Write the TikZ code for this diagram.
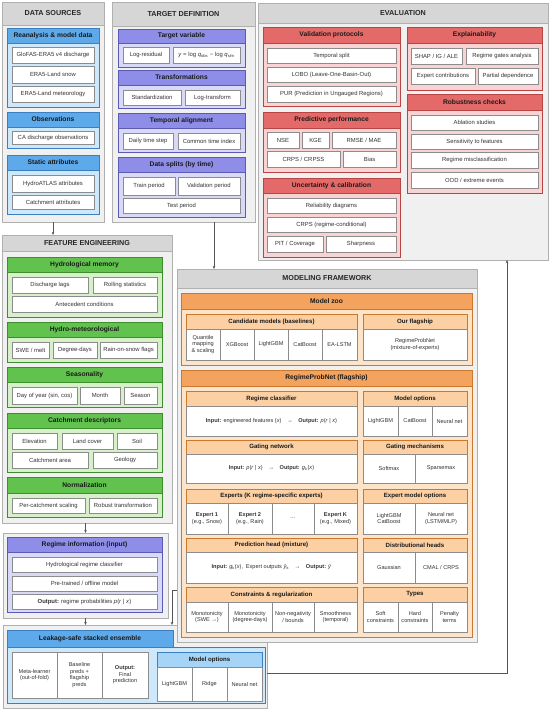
\documentclass[tikz,border=0pt]{standalone}
\usepackage{fontspec}
\setmainfont{Liberation Sans}
\usetikzlibrary{arrows.meta}
\definecolor{secf}{HTML}{F0F0F0}
\definecolor{secd}{HTML}{B0B0B0}
\definecolor{sect}{HTML}{D6D6D6}
\definecolor{itemd}{HTML}{8C8C8C}
\definecolor{txt}{HTML}{333333}
\definecolor{arrc}{HTML}{555555}
\definecolor{blueh}{HTML}{5DA9E9}
\definecolor{blueb}{HTML}{CDE8FB}
\definecolor{blued}{HTML}{3B7FC0}
\definecolor{bluesub}{HTML}{A6D4F7}
\definecolor{purh}{HTML}{8E8EE8}
\definecolor{purb}{HTML}{D8D8F7}
\definecolor{purd}{HTML}{5B5BB5}
\definecolor{redh}{HTML}{E46A6A}
\definecolor{redb}{HTML}{F9D3D3}
\definecolor{redd}{HTML}{B84444}
\definecolor{grnh}{HTML}{62C24E}
\definecolor{grnb}{HTML}{D6F0C9}
\definecolor{grnd}{HTML}{3E8E2E}
\definecolor{orah}{HTML}{F3A35D}
\definecolor{orab}{HTML}{FDE3C7}
\definecolor{orasub}{HTML}{FCD0A3}
\definecolor{orad}{HTML}{C9782E}
\newcommand\mybox[7]{%
  \pgfmathsetmacro\mbw{#5-(#3)}%
  \pgfmathsetmacro\mbh{#6-(#4)}%
  \pgfmathsetmacro\mbx{(#3+#5)/2}%
  \pgfmathsetmacro\mby{(#4+#6)/2}%
  \node[#2, minimum width=\mbw pt, minimum height=\mbh pt] (#1) at (\mbx,\mby) {#7};}
\tikzset{
  base/.style={inner sep=0pt, outer sep=0pt, align=center},
  sec/.style={base, draw=secd, fill=secf, line width=0.7pt},
  sectitle/.style={base, draw=secd, fill=sect, line width=0.7pt, text=black!85, font=\fontsize{7.2}{8}\selectfont\bfseries},
  item/.style={base, draw=itemd, fill=white, line width=0.5pt, text=txt, font=\fontsize{5.9}{7}\selectfont},
  cell/.style={base, draw=itemd, fill=white, line width=0.5pt, text=txt, font=\fontsize{5.6}{6.6}\selectfont},
  head/.style={base, line width=0.6pt, text=black!90, font=\fontsize{6.7}{8}\selectfont\bfseries},
  sub/.style={base, line width=0.5pt, text=black!90, font=\fontsize{6.1}{7}\selectfont\bfseries},
  bbody/.style={base, draw=blued, fill=blueb, line width=0.6pt},
  bhead/.style={head, draw=blued, fill=blueh},
  bsub/.style={sub, draw=blued, fill=bluesub},
  pbody/.style={base, draw=purd, fill=purb, line width=0.6pt},
  phead/.style={head, draw=purd, fill=purh},
  rbody/.style={base, draw=redd, fill=redb, line width=0.6pt},
  rhead/.style={head, draw=redd, fill=redh},
  gbody/.style={base, draw=grnd, fill=grnb, line width=0.6pt},
  ghead/.style={head, draw=grnd, fill=grnh},
  obody/.style={base, draw=orad, fill=orab, line width=0.6pt},
  ohead/.style={head, draw=orad, fill=orah},
  osub/.style={sub, draw=orad, fill=orasub},
  conn/.style={draw=arrc, line width=0.5pt, -{Stealth[length=3.2pt,width=2.6pt]}},
}
\begin{document}
\begin{tikzpicture}[x=1pt,y=-1pt]
\useasboundingbox (0,0) rectangle (550,710);
\fill[white] (0,0) rectangle (550,710);

% ================= DATA SOURCES =================
\mybox{ds}{sec}{2}{2}{104}{222}{}
\mybox{dsT}{sectitle}{2}{2}{104}{25}{DATA SOURCES}
\mybox{b1}{bbody}{7}{28}{99}{107}{}
\mybox{b1h}{bhead}{7}{28}{99}{43}{Reanalysis \& model data}
\mybox{b1a}{item}{12}{47}{94}{63}{GloFAS-ERA5 v4 discharge}
\mybox{b1b}{item}{12}{66}{94}{83}{ERA5-Land snow}
\mybox{b1c}{item}{12}{86}{94}{102}{ERA5-Land meteorology}
\mybox{b2}{bbody}{7}{112}{99}{148}{}
\mybox{b2h}{bhead}{7}{112}{99}{127}{Observations}
\mybox{b2a}{item}{12}{131}{94}{144}{CA discharge observations}
\mybox{b3}{bbody}{7}{155}{99}{214}{}
\mybox{b3h}{bhead}{7}{155}{99}{170}{Static attributes}
\mybox{b3a}{item}{12}{175}{94}{192}{HydroATLAS attributes}
\mybox{b3b}{item}{12}{195}{94}{209}{Catchment attributes}

% ================= TARGET DEFINITION =================
\mybox{td}{sec}{112}{2}{255}{222}{}
\mybox{tdT}{sectitle}{112}{2}{255}{26}{TARGET DEFINITION}
\mybox{p1}{pbody}{118}{29}{245}{67}{}
\mybox{p1h}{phead}{118}{29}{245}{43}{Target variable}
\mybox{p1a}{item}{123}{47}{169}{63}{Log-residual}
\mybox{p1b}{item}{173}{47}{240}{63}{\textit{y} = log \textit{q}\textsubscript{obs} − log \textit{q}\textsubscript{sim}}
\mybox{p2}{pbody}{118}{70}{245}{108}{}
\mybox{p2h}{phead}{118}{70}{245}{85}{Transformations}
\mybox{p2a}{item}{123}{90}{181}{105}{Standardization}
\mybox{p2b}{item}{185}{90}{240}{105}{Log-transform}
\mybox{p3}{pbody}{118}{113}{245}{152}{}
\mybox{p3h}{phead}{118}{113}{245}{128}{Temporal alignment}
\mybox{p3a}{item}{123}{133}{173}{149}{Daily time step}
\mybox{p3b}{item}{178}{133}{240}{149}{Common time index}
\mybox{p4}{pbody}{118}{157}{245}{217}{}
\mybox{p4h}{phead}{118}{157}{245}{172}{Data splits (by time)}
\mybox{p4a}{item}{123}{177}{175}{195}{Train period}
\mybox{p4b}{item}{178}{177}{240}{195}{Validation period}
\mybox{p4c}{item}{123}{198}{240}{213}{Test period}

% ================= EVALUATION =================
\mybox{ev}{sec}{258}{3}{548}{260}{}
\mybox{evT}{sectitle}{258}{3}{548}{23}{EVALUATION}
\mybox{r1}{rbody}{263}{27}{400}{106}{}
\mybox{r1h}{rhead}{263}{27}{400}{43}{Validation protocols}
\mybox{r1a}{item}{267}{48}{396}{63}{Temporal split}
\mybox{r1b}{item}{267}{67}{396}{82}{LOBO (Leave-One-Basin-Out)}
\mybox{r1c}{item}{267}{86}{396}{102}{PUR (Prediction in Ungauged Regions)}
\mybox{r2}{rbody}{263}{112}{400}{172}{}
\mybox{r2h}{rhead}{263}{112}{400}{128}{Predictive performance}
\mybox{r2a}{item}{267}{132}{299}{148}{NSE}
\mybox{r2b}{item}{302}{132}{329}{148}{KGE}
\mybox{r2c}{item}{332}{132}{396}{148}{RMSE / MAE}
\mybox{r2d}{item}{267}{151}{340}{167}{CRPS / CRPSS}
\mybox{r2e}{item}{343}{151}{396}{167}{Bias}
\mybox{r3}{rbody}{263}{178}{400}{257}{}
\mybox{r3h}{rhead}{263}{178}{400}{193}{Uncertainty \& calibration}
\mybox{r3a}{item}{267}{198}{396}{213}{Reliability diagrams}
\mybox{r3b}{item}{267}{217}{396}{232}{CRPS (regime-conditional)}
\mybox{r3c}{item}{267}{236}{323}{252}{PIT / Coverage}
\mybox{r3d}{item}{326}{236}{396}{252}{Sharpness}
\mybox{r4}{rbody}{407}{27}{542}{90}{}
\mybox{r4h}{rhead}{407}{27}{542}{43}{Explainability}
\mybox{r4a}{item}{411}{48}{462}{64}{SHAP / IG / ALE}
\mybox{r4b}{item}{466}{48}{538}{64}{Regime gates analysis}
\mybox{r4c}{item}{411}{68}{475}{84}{Expert contributions}
\mybox{r4d}{item}{478}{68}{538}{84}{Partial dependence}
\mybox{r5}{rbody}{407}{94}{542}{193}{}
\mybox{r5h}{rhead}{407}{94}{542}{110}{Robustness checks}
\mybox{r5a}{item}{411}{115}{538}{130}{Ablation studies}
\mybox{r5b}{item}{411}{134}{538}{149}{Sensitivity to features}
\mybox{r5c}{item}{411}{152}{538}{168}{Regime misclassification}
\mybox{r5d}{item}{411}{172}{538}{188}{OOD / extreme events}

% ================= FEATURE ENGINEERING =================
\mybox{fe}{sec}{2}{235}{172}{523}{}
\mybox{feT}{sectitle}{2}{235}{172}{251}{FEATURE ENGINEERING}
\mybox{g1}{gbody}{7}{257}{162}{317}{}
\mybox{g1h}{ghead}{7}{257}{162}{272}{Hydrological memory}
\mybox{g1a}{item}{12}{277}{88}{293}{Discharge lags}
\mybox{g1b}{item}{93}{277}{157}{293}{Rolling statistics}
\mybox{g1c}{item}{12}{296}{157}{312}{Antecedent conditions}
\mybox{g2}{gbody}{7}{322}{162}{362}{}
\mybox{g2h}{ghead}{7}{322}{162}{337}{Hydro-meteorological}
\mybox{g2a}{item}{12}{342}{49}{358}{SWE / melt}
\mybox{g2b}{item}{53}{342}{97}{358}{Degree-days}
\mybox{g2c}{item}{100}{342}{157}{358}{Rain-on-snow flags}
\mybox{g3}{gbody}{7}{367}{162}{407}{}
\mybox{g3h}{ghead}{7}{367}{162}{382}{Seasonality}
\mybox{g3a}{item}{12}{387}{77}{404}{Day of year (sin, cos)}
\mybox{g3b}{item}{80}{387}{120}{404}{Month}
\mybox{g3c}{item}{124}{387}{157}{404}{Season}
\mybox{g4}{gbody}{7}{413}{162}{472}{}
\mybox{g4h}{ghead}{7}{413}{162}{428}{Catchment descriptors}
\mybox{g4a}{item}{12}{433}{57}{449}{Elevation}
\mybox{g4b}{item}{62}{433}{113}{449}{Land cover}
\mybox{g4c}{item}{117}{433}{157}{449}{Soil}
\mybox{g4d}{item}{12}{452}{88}{468}{Catchment area}
\mybox{g4e}{item}{93}{452}{157}{468}{Geology}
\mybox{g5}{gbody}{7}{477}{162}{517}{}
\mybox{g5h}{ghead}{7}{477}{162}{493}{Normalization}
\mybox{g5a}{item}{12}{498}{85}{513}{Per-catchment scaling}
\mybox{g5b}{item}{89}{498}{157}{513}{Robust transformation}

% ================= REGIME INFORMATION =================
\mybox{ri}{sec}{3}{533}{168}{618}{}
\mybox{q1}{pbody}{7}{537}{162}{612}{}
\mybox{q1h}{phead}{7}{537}{162}{552}{Regime information (input)}
\mybox{q1a}{item}{12}{557}{157}{572}{Hydrological regime classifier}
\mybox{q1b}{item}{12}{576}{157}{591}{Pre-trained / offline model}
\mybox{q1c}{item}{12}{594}{157}{609}{\textbf{Output:} regime probabilities \textit{p}(\textit{r} | \textit{x})}

% ================= LEAKAGE-SAFE ENSEMBLE =================
\mybox{le}{sec}{3}{625}{267}{708}{}
\mybox{l1}{bbody}{7}{647}{265}{703}{}
\mybox{l1h}{bhead}{7}{630}{173}{647}{Leakage-safe stacked ensemble}
\mybox{l1a}{cell}{12}{652}{57}{698}{Meta-learner\\(out-of-fold)}
\mybox{l1b}{cell}{57}{652}{102}{698}{Baseline\\preds +\\flagship\\preds}
\mybox{l1c}{cell}{102}{652}{148}{698}{\textbf{Output:}\\Final\\prediction}
\mybox{l2}{bsub}{157}{652}{262}{667}{Model options}
\mybox{l2a}{cell}{157}{667}{192}{701}{LightGBM}
\mybox{l2b}{cell}{192}{667}{227}{701}{Ridge}
\mybox{l2c}{cell}{227}{667}{262}{701}{Neural net}

% ================= MODELING FRAMEWORK =================
\mybox{mf}{sec}{177}{269}{477}{642}{}
\mybox{mfT}{sectitle}{177}{269}{477}{288}{MODELING FRAMEWORK}
\mybox{o1}{obody}{181}{293}{472}{365}{}
\mybox{o1h}{ohead}{181}{293}{472}{309}{Model zoo}
\mybox{o1a}{osub}{186}{314}{357}{329}{Candidate models (baselines)}
\mybox{o1a1}{cell}{186}{329}{220}{360}{Quantile\\mapping\\\& scaling}
\mybox{o1a2}{cell}{220}{329}{254}{360}{XGBoost}
\mybox{o1a3}{cell}{254}{329}{288}{360}{LightGBM}
\mybox{o1a4}{cell}{288}{329}{322}{360}{CatBoost}
\mybox{o1a5}{cell}{322}{329}{357}{360}{EA-LSTM}
\mybox{o1b}{osub}{363}{314}{467}{329}{Our flagship}
\mybox{o1b1}{cell}{363}{329}{467}{360}{RegimeProbNet\\(mixture-of-experts)}

\mybox{o2}{obody}{181}{370}{472}{637}{}
\mybox{o2h}{ohead}{181}{370}{472}{386}{RegimeProbNet (flagship)}
\mybox{o2a}{osub}{186}{391}{357}{406}{Regime classifier}
\mybox{o2a1}{cell}{186}{406}{357}{436}{\textbf{Input:} engineered features (\textit{x})\quad →\quad \textbf{Output:} \textit{p}(\textit{r} | \textit{x})}
\mybox{o2b}{osub}{363}{391}{467}{406}{Model options}
\mybox{o2b1}{cell}{363}{406}{398}{436}{LightGBM}
\mybox{o2b2}{cell}{398}{406}{432}{436}{CatBoost}
\mybox{o2b3}{cell}{432}{406}{467}{436}{Neural net}
\mybox{o2c}{osub}{186}{440}{357}{454}{Gating network}
\mybox{o2c1}{cell}{186}{454}{357}{483}{\textbf{Input:} \textit{p}(\textit{r} | \textit{x})\quad →\quad \textbf{Output:} \textit{g}\textsubscript{k}(\textit{x})}
\mybox{o2d}{osub}{363}{440}{467}{454}{Gating mechanisms}
\mybox{o2d1}{cell}{363}{454}{415}{483}{Softmax}
\mybox{o2d2}{cell}{415}{454}{467}{483}{Sparsemax}
\mybox{o2e}{osub}{186}{489}{357}{503}{Experts (K regime-specific experts)}
\mybox{o2e1}{cell}{186}{503}{228}{534}{\textbf{Expert 1}\\(e.g., Snow)}
\mybox{o2e2}{cell}{228}{503}{272}{534}{\textbf{Expert 2}\\(e.g., Rain)}
\mybox{o2e3}{cell}{272}{503}{314}{534}{…}
\mybox{o2e4}{cell}{314}{503}{357}{534}{\textbf{Expert K}\\(e.g., Mixed)}
\mybox{o2f}{osub}{363}{489}{467}{503}{Expert model options}
\mybox{o2f1}{cell}{363}{503}{415}{534}{LightGBM\\CatBoost}
\mybox{o2f2}{cell}{415}{503}{467}{534}{Neural net\\(LSTM/MLP)}
\mybox{o2g}{osub}{186}{538}{357}{552}{Prediction head (mixture)}
\mybox{o2g1}{cell}{186}{552}{357}{583}{\textbf{Input:} \textit{g}\textsubscript{k}(\textit{x}),\enspace Expert outputs \textit{ŷ}\textsubscript{k}\quad →\quad \textbf{Output:} \textit{ŷ}}
\mybox{o2k}{osub}{363}{538}{467}{552}{Distributional heads}
\mybox{o2k1}{cell}{363}{552}{415}{583}{Gaussian}
\mybox{o2k2}{cell}{415}{552}{467}{583}{CMAL / CRPS}
\mybox{o2i}{osub}{186}{587}{357}{602}{Constraints \& regularization}
\mybox{o2i1}{cell}{186}{602}{228}{632}{Monotonicity\\(SWE →)}
\mybox{o2i2}{cell}{228}{602}{272}{632}{Monotonicity\\(degree-days)}
\mybox{o2i3}{cell}{272}{602}{314}{632}{Non-negativity\\/ bounds}
\mybox{o2i4}{cell}{314}{602}{357}{632}{Smoothness\\(temporal)}
\mybox{o2j}{osub}{363}{587}{467}{602}{Types}
\mybox{o2j1}{cell}{363}{602}{398}{632}{Soft\\constraints}
\mybox{o2j2}{cell}{398}{602}{432}{632}{Hard\\constraints}
\mybox{o2j3}{cell}{432}{602}{467}{632}{Penalty\\terms}

% ================= CONNECTORS =================
\coordinate (tdx) at (214,0);
\coordinate (j1) at (172,590);
\coordinate (j2) at (507,673);
\draw[conn] (ds.south) -- (ds.south |- fe.north);
\draw[conn] (td.south -| tdx) -- (mf.north -| tdx);
\draw[conn] (fe.south -| ri.north) -- (ri.north);
\draw[conn] (ri.south) -- (ri.south |- le.north);
\draw[conn] (mf.west |- j1) -- (j1) -- (j1 |- le.north);
\draw[conn] (le.east |- j2) -- (j2) -- (j2 |- ev.south);
\end{tikzpicture}
\end{document}
